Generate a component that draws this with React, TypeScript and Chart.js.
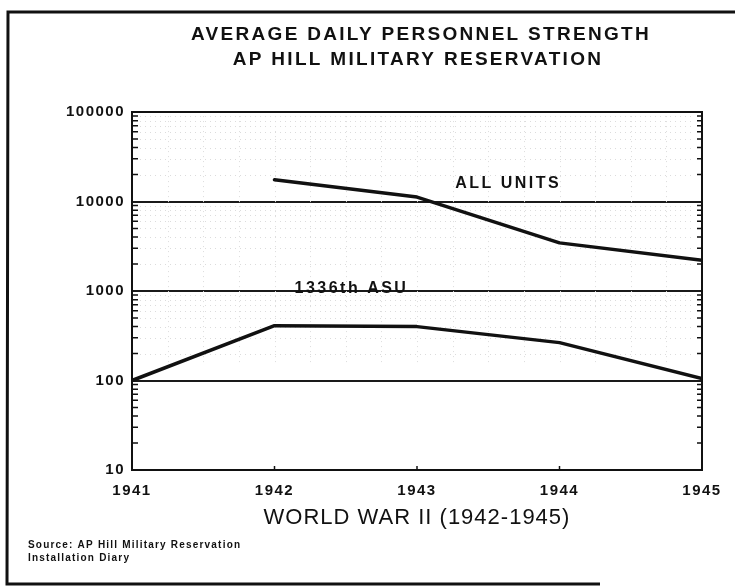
import React, { useEffect, useRef } from "react";
import { Chart, registerables } from "chart.js";

Chart.register(...registerables);

// ---- data ----
const years = [1941, 1942, 1943, 1944, 1945];
const allUnits: (number | null)[] = [null, 17500, 11200, 3450, 2200];
const asu1336: (number | null)[] = [100, 410, 400, 265, 105];
const yDecades = [10, 100, 1000, 10000, 100000];
const titleLines = ["AVERAGE DAILY PERSONNEL STRENGTH", "AP HILL MILITARY RESERVATION"];
const xTitle = "WORLD WAR II (1942-1945)";
const sourceLines = ["Source: AP Hill Military Reservation", "Installation Diary"];
const seriesNames = ["ALL UNITS", "1336th ASU"];
// label anchors in data units (year, value)
const labelYears = [1943.64, 1942.54];
const labelValues = [15800, 1060];

const FONT = "'Liberation Sans', Arial, Helvetica, sans-serif";
const INK = "#111";

const toPoints = (vals: (number | null)[]) =>
  years
    .map((y, i) => ({ x: y, y: vals[i] }))
    .filter((p) => p.y !== null) as { x: number; y: number }[];

const isDecade = (v: number) => {
  const l = Math.log10(v);
  return Math.abs(l - Math.round(l)) < 1e-9;
};

const decoPlugin = {
  id: "deco",
  beforeDatasetsDraw(chart: any) {
    const { ctx, chartArea: a, scales } = chart;
    const ys = scales.y;
    const xs = scales.x;
    ctx.save();
    ctx.strokeStyle = "#dcdcdc";
    ctx.lineWidth = 1;
    ctx.setLineDash([1, 4]);
    // faint dotted minor grid (upper region)
    for (let d = 100; d < 100000; d *= 10) {
      for (let m = 2; m <= 9; m++) {
        const y = Math.round(ys.getPixelForValue(m * d)) + 0.5;
        ctx.beginPath();
        ctx.moveTo(a.left + 8, y);
        ctx.lineTo(a.right - 8, y);
        ctx.stroke();
      }
    }
    const yTop = ys.getPixelForValue(90000);
    const yBot = ys.getPixelForValue(150);
    for (let t = years[0] + 0.25; t < years[years.length - 1]; t += 0.25) {
      const x = Math.round(xs.getPixelForValue(t)) + 0.5;
      ctx.beginPath();
      ctx.moveTo(x, yTop);
      ctx.lineTo(x, yBot);
      ctx.stroke();
    }
    ctx.restore();
  },
  afterDraw(chart: any) {
    const { ctx, chartArea: a, scales } = chart;
    const ys = scales.y;
    const xs = scales.x;
    ctx.save();
    ctx.setLineDash([]);
    ctx.strokeStyle = INK;

    // plot box
    ctx.lineWidth = 2;
    ctx.strokeRect(a.left, a.top, a.right - a.left, a.bottom - a.top);

    // minor log ticks on left and right axes (pointing inward)
    ctx.lineWidth = 1.5;
    for (let i = 0; i < yDecades.length - 1; i++) {
      for (let m = 2; m <= 9; m++) {
        const y = ys.getPixelForValue(m * yDecades[i]);
        ctx.beginPath();
        ctx.moveTo(a.left, y);
        ctx.lineTo(a.left + 6, y);
        ctx.moveTo(a.right, y);
        ctx.lineTo(a.right - 5, y);
        ctx.stroke();
      }
    }
    // small x tick marks
    for (let i = 1; i < years.length - 1; i++) {
      const x = xs.getPixelForValue(years[i]);
      ctx.beginPath();
      ctx.moveTo(x, a.bottom);
      ctx.lineTo(x, a.bottom - 4);
      ctx.stroke();
    }

    // outer frame (left, top, bottom)
    ctx.lineWidth = 3;
    ctx.beginPath();
    ctx.moveTo(735, 12);
    ctx.lineTo(8, 12);
    ctx.lineTo(7, 584);
    ctx.lineTo(600, 584);
    ctx.stroke();

    ctx.fillStyle = INK;
    ctx.textAlign = "center";
    ctx.textBaseline = "middle";

    // title
    ctx.font = `bold 19px ${FONT}`;
    (ctx as any).letterSpacing = "2.3px";
    ctx.fillText(titleLines[0], 421, 35);
    ctx.fillText(titleLines[1], 418, 60);

    // x axis title
    ctx.font = `22px ${FONT}`;
    (ctx as any).letterSpacing = "1px";
    ctx.fillText(xTitle, (a.left + a.right) / 2, 518);

    // series labels
    ctx.font = `bold 16px ${FONT}`;
    (ctx as any).letterSpacing = "2.5px";
    for (let i = 0; i < seriesNames.length; i++) {
      ctx.fillText(seriesNames[i], xs.getPixelForValue(labelYears[i]), ys.getPixelForValue(labelValues[i]));
    }

    // source
    ctx.textAlign = "left";
    ctx.font = `bold 10px ${FONT}`;
    (ctx as any).letterSpacing = "1.2px";
    ctx.fillText(sourceLines[0], 28, 545);
    ctx.fillText(sourceLines[1], 28, 558);

    (ctx as any).letterSpacing = "0px";
    ctx.restore();
  },
};

const spacingPlugin = {
  id: "tickSpacing",
  beforeDraw(chart: any) {
    (chart.ctx as any).letterSpacing = "1.5px";
  },
};

export default function App() {
  const ref = useRef<HTMLCanvasElement>(null);

  useEffect(() => {
    if (!ref.current) return;
    const chart = new Chart(ref.current, {
      type: "line",
      data: {
        datasets: [
          {
            label: seriesNames[0],
            data: toPoints(allUnits),
            borderColor: INK,
            borderWidth: 3.5,
            pointRadius: 0,
            tension: 0,
            borderJoinStyle: "round",
            borderCapStyle: "round",
          },
          {
            label: seriesNames[1],
            data: toPoints(asu1336),
            borderColor: INK,
            borderWidth: 3.5,
            pointRadius: 0,
            tension: 0,
            borderJoinStyle: "round",
            borderCapStyle: "round",
          },
        ],
      },
      options: {
        responsive: false,
        animation: false,
        devicePixelRatio: 1,
        layout: { padding: { left: 0, right: 33, top: 112, bottom: 77 } },
        plugins: {
          legend: { display: false },
          title: { display: false },
          tooltip: { enabled: false },
        },
        scales: {
          x: {
            type: "linear",
            min: years[0],
            max: years[years.length - 1],
            afterFit: (s: any) => {
              s.height = 40;
            },
            grid: { display: false, drawTicks: false },
            border: { display: true, color: INK, width: 2 },
            ticks: {
              stepSize: 1,
              autoSkip: false,
              maxRotation: 0,
              padding: 12,
              color: INK,
              font: { family: FONT, size: 15, weight: "bold" },
              callback: (v: any) => String(v),
            },
          },
          y: {
            type: "logarithmic",
            min: yDecades[0],
            max: yDecades[yDecades.length - 1],
            afterFit: (s: any) => {
              s.width = 132;
            },
            afterBuildTicks: (s: any) => {
              const t: any[] = [];
              for (let i = 0; i < yDecades.length; i++) {
                t.push({ value: yDecades[i], major: true });
              }
              s.ticks = t;
            },
            grid: {
              drawTicks: false,
              color: (c: any) => (c.tick && isDecade(c.tick.value) ? "#1a1a1a" : "rgba(0,0,0,0)"),
              lineWidth: 2,
            },
            border: { display: true, color: INK, width: 2 },
            ticks: {
              autoSkip: false,
              padding: 7,
              color: INK,
              font: { family: FONT, size: 15, weight: "bold" },
              callback: (v: any) => (isDecade(Number(v)) ? String(v) : ""),
            },
          },
        },
      },
      plugins: [spacingPlugin, decoPlugin],
    } as any);
    return () => chart.destroy();
  }, []);

  return (
    <div style={{ position: "absolute", left: 0, top: 0, width: 735, height: 587, background: "#fff" }}>
      <canvas ref={ref} width={735} height={587} style={{ display: "block" }} />
    </div>
  );
}
